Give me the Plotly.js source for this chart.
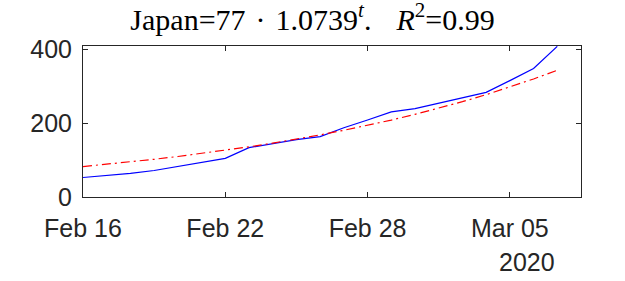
<!DOCTYPE html>
<html>
<head>
<meta charset="utf-8">
<script src="https://cdn.plot.ly/plotly-3.0.1.min.js"></script>
<style>html,body{margin:0;padding:0;background:#fff;}#chart{width:625px;height:281px;}</style>
</head>
<body>
<div id="chart"></div>
<script>
// Dates (categories)
var dates = ["2020-02-16","2020-02-17","2020-02-18","2020-02-19","2020-02-20","2020-02-21","2020-02-22",
             "2020-02-23","2020-02-24","2020-02-25","2020-02-26","2020-02-27","2020-02-28","2020-02-29",
             "2020-03-01","2020-03-02","2020-03-03","2020-03-04","2020-03-05","2020-03-06","2020-03-07"];
// Observed cases (blue)
var cases = [53, 58, 64, 72, 83, 94, 105, 134, 145, 156, 164, 188, 209, 231, 240, 254, 269, 284, 316, 349, 409];
// Fitted values (red dash-dot)
var fitted = [82.7, 88.8, 95.4, 102.4, 110.0, 118.1, 126.8, 136.2, 146.3, 157.1, 168.7, 181.2, 194.5, 208.9,
              224.4, 240.9, 258.8, 277.9, 298.4, 320.5, 344.1];
// Tick labels
var xTickVals = ["2020-02-16","2020-02-22","2020-02-28","2020-03-05"];
var xTickText = ["Feb 16","Feb 22","Feb 28","Mar 05"];
var yTickVals = [0, 200, 400];
var yTickText = ["0","200","400"];
var yearLabel = "2020";
var titleText = "Japan=77\u2004·\u20041.0739<sup><i>t</i></sup>.\u2002\u2004<i>R</i><sup>2</sup>=0.99";

var axColor = "#262626";
var traces = [
  {x: dates, y: cases, type: "scatter", mode: "lines",
   line: {color: "#0000ff", width: 1.2}, hoverinfo: "none"},
  {x: dates, y: fitted, type: "scatter", mode: "lines",
   line: {color: "#ff0000", width: 1.2, dash: "9px,4px,2px,4px"}, hoverinfo: "none"}
];
var layout = {
  width: 625, height: 281,
  margin: {l: 83, r: 44, t: 46, b: 84},
  paper_bgcolor: "#fff", plot_bgcolor: "#fff",
  showlegend: false,
  title: {text: titleText, font: {family: "Liberation Serif", size: 30, color: "#000"},
          x: 0.5, xanchor: "center", yref: "container", y: 0.932, yanchor: "middle"},
  xaxis: {type: "date", range: ["2020-02-16", "2020-03-08"],
          tickmode: "array", tickvals: xTickVals, ticktext: xTickText,
          ticks: "inside", ticklen: 5, tickcolor: axColor, tickwidth: 1,
          showline: true, linecolor: axColor, linewidth: 1, mirror: "ticks",
          showgrid: false, zeroline: false, ticklabelstandoff: 9,
          tickfont: {family: "Liberation Sans, Arial", size: 25, color: axColor}},
  yaxis: {range: [0, 410], tickmode: "array", tickvals: yTickVals, ticktext: yTickText,
          ticks: "inside", ticklen: 5, tickcolor: axColor, tickwidth: 1,
          showline: true, linecolor: axColor, linewidth: 1, mirror: "ticks",
          showgrid: false, zeroline: false, ticklabelstandoff: 5,
          tickfont: {family: "Liberation Sans, Arial", size: 25, color: axColor}},
  annotations: [{text: yearLabel, xref: "paper", yref: "paper", x: 0.952, y: -0.433,
                 xanchor: "right", yanchor: "middle", showarrow: false,
                 font: {family: "Liberation Sans, Arial", size: 25, color: axColor}}]
};
Plotly.newPlot("chart", traces, layout, {staticPlot: true, displayModeBar: false});
</script>
</body>
</html>
